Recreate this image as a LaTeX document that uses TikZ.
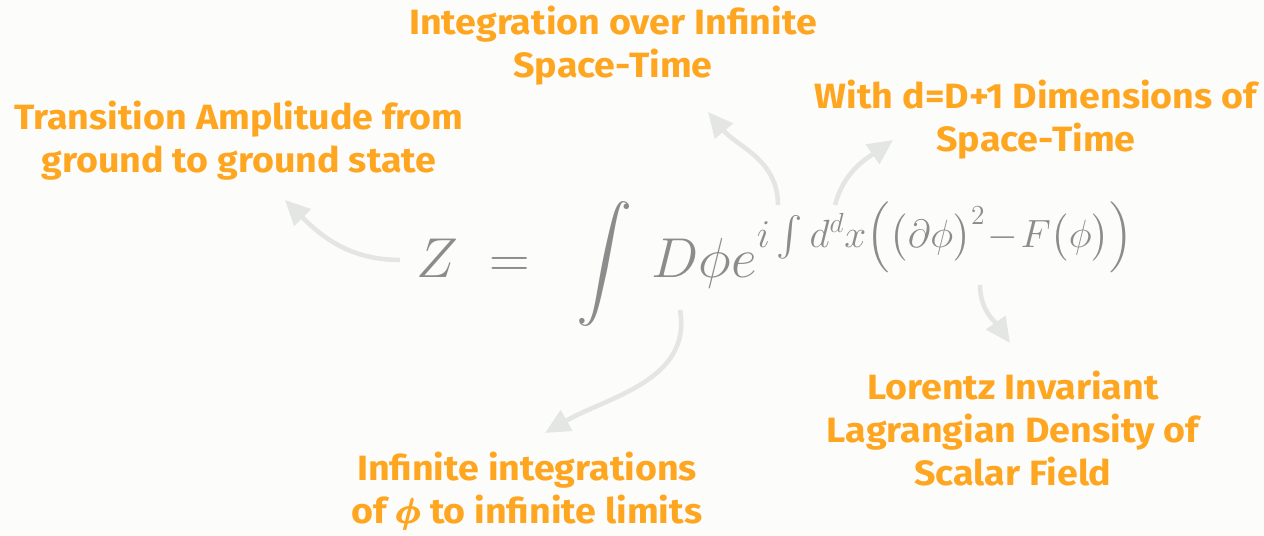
\RequirePackage{fix-cm}
\documentclass[tikz,border=0pt]{standalone}
\usepackage{amsmath,amssymb}
\usepackage{fontspec}
\setsansfont[FakeStretch=1.07]{Fira Sans}
\usepackage{tikz}
\usetikzlibrary{positioning,arrows.meta}
\usepackage{xcolor}
\definecolor{labelorange}{HTML}{FFA620}
\definecolor{eqgray}{HTML}{8C8C8C}
\definecolor{arrowgray}{HTML}{E4E6E4}
\definecolor{bgwhite}{HTML}{FCFCFB}
\newcommand{\expo}{\fontsize{22.4}{27}\selectfont$i\int d^d x\Big(\big(\partial\phi\big)^2\!-\!F\big(\phi\big)\Big)$}

\begin{document}
\begin{tikzpicture}[>={Triangle[length=5mm,width=4.6mm]},
  note/.style={align=center,text=labelorange,font=\sffamily\bfseries\fontsize{20}{24.5}\selectfont},
  pointer/.style={->,arrowgray,line width=2.6pt}]
\fill[bgwhite] (0,0) rectangle (25.28,10.72);
\useasboundingbox (0,0) rectangle (25.28,10.72);
\node[text=eqgray,inner sep=0pt,anchor=base west,font=\fontsize{32}{38}\selectfont] (eq) at (8.32,5.16)
  {$\displaystyle Z \;=\;\; \int\, D\phi e\mbox{\raisebox{17.5pt}{\expo}}$};
\node[note] (trans) at (4.78,7.9) {Transition Amplitude from\\ground to ground state};
\node[note] (space) at (12.26,9.8) {Integration over Infinite\\Space-Time};
\node[note] (dims) at (20.72,8.32) {With d=D+1 Dimensions of\\Space-Time};
\node[note] (infint) at (10.54,0.9) {Infinite integrations\\of $\pmb{\boldsymbol{\phi}}$ to infinite limits};
\node[note] (lorentz) at (20.26,2.14) {Lorentz Invariant\\Lagrangian Density of\\Scalar Field};
% arrow ends
\coordinate (zs) at (8.0,5.52);
\coordinate (ze) at (5.7,6.72);
\coordinate (is) at (15.56,6.62);
\coordinate (ie) at (14.16,8.48);
\coordinate (ds) at (16.7,6.62);
\coordinate (de) at (17.86,7.92);
\coordinate (ps) at (13.6,4.52);
\coordinate (pe) at (10.9,2.06);
\coordinate (fs) at (19.6,5.02);
\coordinate (fe) at (20.2,3.86);
\draw[pointer] (zs) to[out=180,in=-45] (ze);
\draw[pointer] (is) to[out=90,in=-50] (ie);
\draw[pointer] (ds) to[out=75,in=215] (de);
\draw[pointer] (ps) to[out=-80,in=30] (pe);
\draw[pointer] (fs) to[out=-90,in=125] (fe);
\end{tikzpicture}
\end{document}
